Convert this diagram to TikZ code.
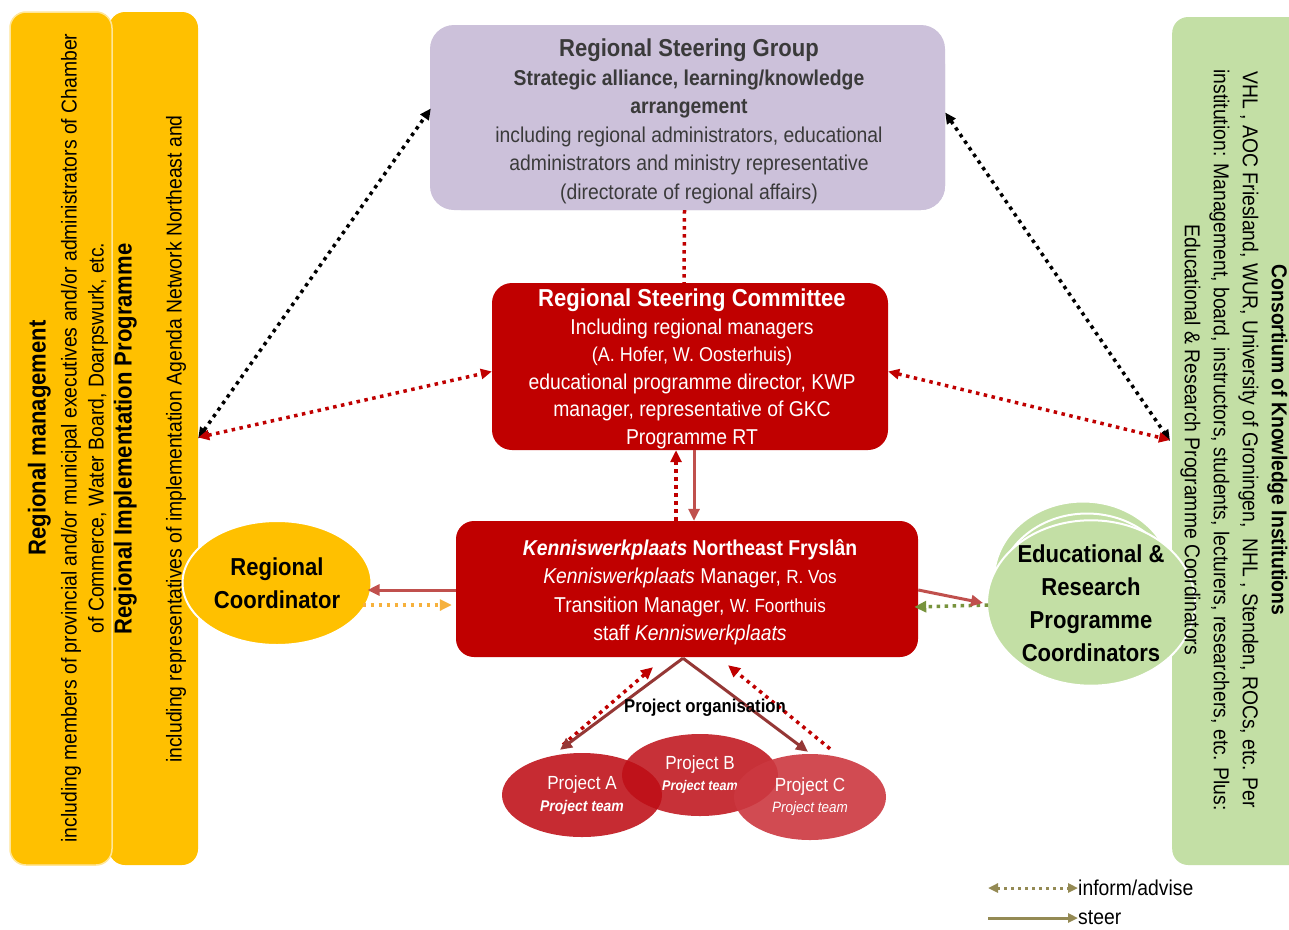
\documentclass[tikz,border=0pt]{standalone}
\usepackage{fontspec}
\setmainfont{Liberation Sans}[FakeStretch=0.9]
\usetikzlibrary{arrows.meta,shapes.geometric,calc}

\definecolor{panelyellow}{HTML}{FFC000}
\definecolor{panelgreen}{HTML}{C3DFA5}
\definecolor{lavender}{HTML}{CCC1DA}
\definecolor{boxred}{HTML}{C00000}
\definecolor{steerred}{HTML}{C0504D}
\definecolor{projred}{HTML}{953735}
\definecolor{advorange}{HTML}{F6B13C}
\definecolor{advgreen}{HTML}{77933C}
\definecolor{legendolive}{HTML}{948A54}
\definecolor{greytext}{HTML}{3A3A3A}
\definecolor{projA}{HTML}{C0141C}
\definecolor{projB}{HTML}{BE0E16}
\definecolor{projC}{HTML}{CC3840}

\newcommand{\fsz}[2]{\fontsize{#1pt}{#2pt}\selectfont}

\begin{document}
\begin{tikzpicture}[x=1pt,y=-1pt,
  tip/.style={-{Triangle[length=12pt,width=11pt]}},
  dtip/.style={{Triangle[length=11pt,width=10pt]}-{Triangle[length=11pt,width=10pt]}},
  dots/.style={line width=3.5pt, dash pattern=on 3.5pt off 4.5pt},
  steerline/.style={line width=3pt, draw=steerred},
  panel/.style={rounded corners=16pt, inner sep=0pt},
  bigbox/.style={rounded corners=22pt, inner sep=0pt, align=center},
  oval/.style={ellipse, inner sep=0pt, align=center},
  vtext/.style={align=center, inner sep=0pt},
]
\useasboundingbox (0,0) rectangle (1289,929);
\fill[white] (0,0) rectangle (1289,929);

% ---- side panels ----
\node[panel, fill=panelyellow, minimum width=89pt, minimum height=853pt] (lp2) at (153.5,438.5) {};
\node[panel, fill=panelyellow, draw=white!60!panelyellow, line width=1.5pt, minimum width=102pt, minimum height=853pt] (lp1) at (61,438.5) {};
\node[vtext, rotate=90, font=\fsz{21.5}{27}] (lp1t) at (68,438)
  {{\bfseries\fsz{24.5}{27}Regional management}\\[4pt]
   including members of provincial and/or municipal executives and/or administrators of Chamber\\
   of Commerce, Water Board, Doarpswurk, etc.};
\node[vtext, rotate=90, font=\fsz{21.5}{27}] (lp2t) at (150,439)
  {{\bfseries\fsz{24.5}{27}Regional Implementation Programme}\\[23pt]
   including representatives of implementation Agenda Network Northeast and};

\node[panel, fill=panelgreen, minimum width=140pt, minimum height=848pt, anchor=west] (rp) at (1172,441) {};

% ---- regional steering group ----
\fill[lavender, rounded corners=24pt] (437,40) rectangle (945,210);
\node[bigbox, fill=lavender, minimum width=515pt, minimum height=185pt, rounded corners=24pt] (rsg) at (687.5,117.5) {};
\node[vtext, text=greytext, font=\fsz{21.5}{28.5}] (rsgt) at (689,121.5)
  {{\bfseries\fsz{24.5}{28.5}Regional Steering Group}\\
   {\bfseries Strategic alliance, learning/knowledge}\\
   {\bfseries arrangement}\\
   including regional administrators, educational\\
   administrators and ministry representative\\
   (directorate of regional affairs)};

% ---- regional steering committee ----
\node[bigbox, fill=boxred, minimum width=396pt, minimum height=167pt, rounded corners=20pt] (rsc) at (690,366.5) {};
\node[vtext, text=white, font=\fsz{21.5}{27.5}] (rsct) at (692,369)
  {{\bfseries\fsz{24.5}{27.5}Regional Steering Committee}\\
   Including regional managers\\
   {\fsz{20}{27.5}(A. Hofer, W. Oosterhuis)}\\
   educational programme director, KWP\\
   manager, representative of GKC\\
   Programme RT};

% ---- kenniswerkplaats ----
\node[bigbox, fill=boxred, minimum width=462pt, minimum height=136pt, rounded corners=18pt] (kwp) at (687,589) {};
\node[vtext, text=white, font=\fsz{21.5}{28.5}] (kwpt) at (690,592)
  {{\bfseries\itshape Kenniswerkplaats}\textbf{ Northeast Fryslân}\\
   \textit{Kenniswerkplaats} Manager, {\fsz{19}{28.5}R. Vos}\\
   Transition Manager, {\fsz{19}{28.5}W. Foorthuis}\\
   staff \textit{Kenniswerkplaats}};

% ---- regional coordinator ----
\node[oval, fill=panelyellow, draw=white, line width=2pt, minimum width=189pt, minimum height=124pt,
      font=\bfseries\fsz{24.5}{33}] (rc) at (277,583) {Regional\\Coordinator};

% ---- programme coordinators (stacked) ----
\node[oval, fill=panelgreen, draw=white, line width=2pt, minimum width=178pt, minimum height=155pt] (edu3) at (1083,579) {};
\node[oval, fill=panelgreen, draw=white, line width=2pt, minimum width=178pt, minimum height=155pt] (edu2) at (1087,591) {};
\node[oval, fill=panelgreen, draw=white, line width=2pt, minimum width=178pt, minimum height=155pt,
      font=\bfseries\fsz{24.5}{33}] (edu) at (1091,603)
  {Educational \&\\Research\\Programme\\Coordinators};

% ---- consortium text, over the coordinator ovals ----
\node[vtext, rotate=-90, font=\fsz{21.5}{29}] (rpt) at (1234,440)
  {{\bfseries\fsz{21.5}{29}Consortium of Knowledge Institutions}\\
   VHL , AOC Friesland, WUR, University of Groningen,\ \ NHL , Stenden, ROCs, etc. Per\\
   institution: Management, board, instructors, students, lecturers, researchers, etc. Plus:\\
   Educational \& Research Programme Coordinators};

% ---- projects ----
\node[oval, fill=projA, fill opacity=0.9, text opacity=1, minimum width=160pt, minimum height=84pt,
      text=white, font=\fsz{19}{22}] (pa) at (582,795)
  {Project A\\{\bfseries\itshape\fsz{15.5}{22}Project team}};
\node[oval, fill=projB, fill opacity=0.85, text opacity=1, minimum width=156pt, minimum height=82pt,
      text=white, font=\fsz{19}{21}] (pb) at (700,775)
  {Project B\\{\bfseries\itshape\fsz{14}{21}Project team}};
\node[oval, fill=projC, fill opacity=0.9, text opacity=1, minimum width=152pt, minimum height=86pt,
      text=white, font=\fsz{19}{21}] (pc) at (810,797)
  {Project C\\{\itshape\fsz{15}{21}Project team}};

% ---- connectors: inform/advise ----
\draw[dots, dtip, black] (lp2.east) -- ($(rsg.west)+(1,-9)$);
\draw[dots, dtip, black] ($(rsg.east)+(0,-5)$) -- ($(rp.west)+(-2,0)$);
\draw[dots, dtip, boxred] ($(lp2.east)+(0,-1)$) -- ($(rsc.west)+(0,5)$);
\draw[dots, dtip, boxred] ($(rsc.east)+(0,5)$) -- ($(rp.west)+(-2,-1)$);
\draw[dots, boxred] ($(rsg.south)+(-3,0)$) -- ($(rsc.north)+(-6,0)$);
\draw[dots, tip, boxred] ($(kwp.north)+(-11,0)$) -- ($(rsc.south)+(-14,0)$);
\draw[dots, tip, advorange] ($(rc.east)+(-10,22)$) -- ($(kwp.west)+(-4,16)$);
\draw[dots, tip, advgreen] ($(edu.west)+(2,2)$) -- ($(kwp.east)+(-4,18)$);
\draw[dots, tip, boxred] ($(pa.north)+(-19,-8)$) -- ($(kwp.south)+(-34,10)$);
\draw[dots, tip, boxred] ($(pc.north)+(20,-5)$) -- ($(kwp.south)+(41,8)$);

% ---- connectors: steer ----
\draw[steerline, tip] ($(rsc.south)+(4,0)$) -- ($(kwp.north)+(7,0)$);
\draw[steerline, tip] ($(kwp.west)+(0,1)$) -- ($(rc.east)+(-5,7)$);
\draw[steerline, tip] ($(kwp.east)+(0,1)$) -- ($(edu.west)+(-3,0)$);
\draw[line width=3pt, projred, tip] ($(kwp.south)+(-4,1)$) -- ($(pa.north)+(-22,-3)$);
\draw[line width=3pt, projred, tip] ($(kwp.south)+(-4,1)$) -- ($(pc.north)+(-2,-2)$);

\node[font=\bfseries\fsz{18.6}{22}, inner sep=0pt] (porg) at (705,708) {Project organisation};

% ---- legend ----
\coordinate (lg1) at (988,888);
\coordinate (lg2) at (988,918);
\node[anchor=west, inner sep=0pt, font=\fsz{21.5}{24}] (lgt1) at (1078,888) {inform/advise};
\node[anchor=west, inner sep=0pt, font=\fsz{21.5}{24}] (lgt2) at (1078,918) {steer};
\draw[legendolive, line width=3pt, dash pattern=on 3pt off 4pt,
      {Triangle[length=10pt,width=9pt]}-{Triangle[length=10pt,width=9pt]}] (lg1) -- (lgt1.west);
\draw[legendolive, line width=3pt, -{Triangle[length=10pt,width=9pt]}] (lg2) -- (lgt2.west);
\end{tikzpicture}
\end{document}
